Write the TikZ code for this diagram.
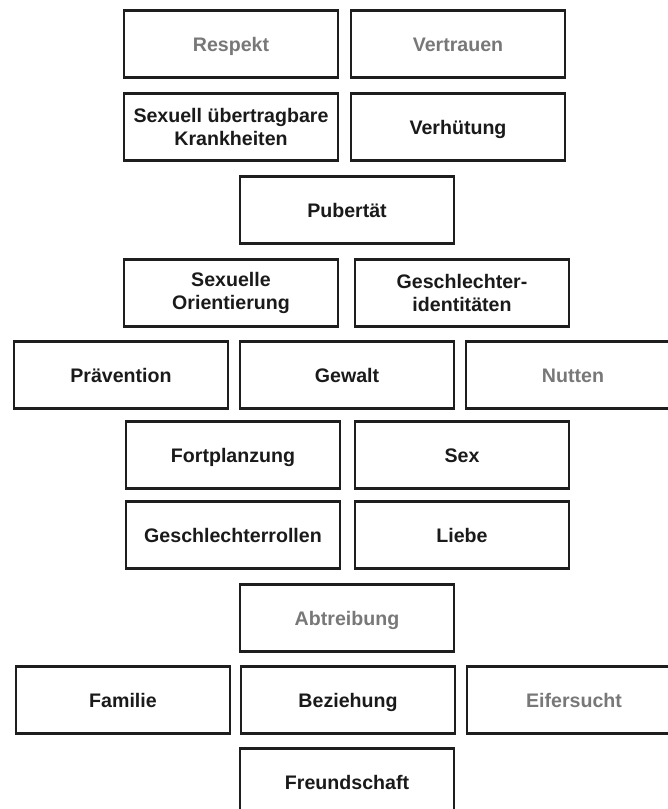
\documentclass[tikz,border=0pt]{standalone}
\usepackage{fontspec}
\setmainfont{Liberation Sans}
\definecolor{ink}{HTML}{1A1A1A}
\definecolor{soft}{HTML}{787878}
\definecolor{edge}{HTML}{1E1E1E}
\begin{document}
\begin{tikzpicture}[x=1pt,y=-1pt,
  twoline/.style={draw=edge, line width=2.7pt, minimum width=214pt, minimum height=67pt,
    inner sep=0pt, align=center, font=\fontsize{19.6}{23}\selectfont\bfseries, text=ink},
  topic/.style={twoline, text height=19pt, text depth=4.5pt},
  faded/.style={topic, text=soft}]
\useasboundingbox (0,0) rectangle (668,809);
\clip (0,0) rectangle (668,809);
\node[faded] (respekt) at (231,44) {Respekt};
\node[faded] (vertrauen) at (458,44) {Vertrauen};
\node[twoline] (sti) at (231,127) {Sexuell übertragbare\\Krankheiten};
\node[topic] (verhuetung) at (458,127) {Verhütung};
\node[topic] (pubertaet) at (347,210) {Pubertät};
\node[twoline] (orient) at (231,293) {Sexuelle\\Orientierung};
\node[twoline] (ident) at (462,293) {Geschlechter-\\identitäten};
\node[topic] (praevention) at (121,375) {Prävention};
\node[topic] (gewalt) at (347,375) {Gewalt};
\node[faded] (nutten) at (573,375) {Nutten};
\node[topic] (fort) at (233,455) {Fortplanzung};
\node[topic] (sex) at (462,455) {Sex};
\node[topic] (rollen) at (233,535) {Geschlechterrollen};
\node[topic] (liebe) at (462,535) {Liebe};
\node[faded] (abtreibung) at (347,618) {Abtreibung};
\node[topic] (familie) at (123,700) {Familie};
\node[topic] (beziehung) at (348,700) {Beziehung};
\node[faded] (eifersucht) at (574,700) {Eifersucht};
\node[topic] (freundschaft) at (347,782) {Freundschaft};
\end{tikzpicture}
\end{document}
